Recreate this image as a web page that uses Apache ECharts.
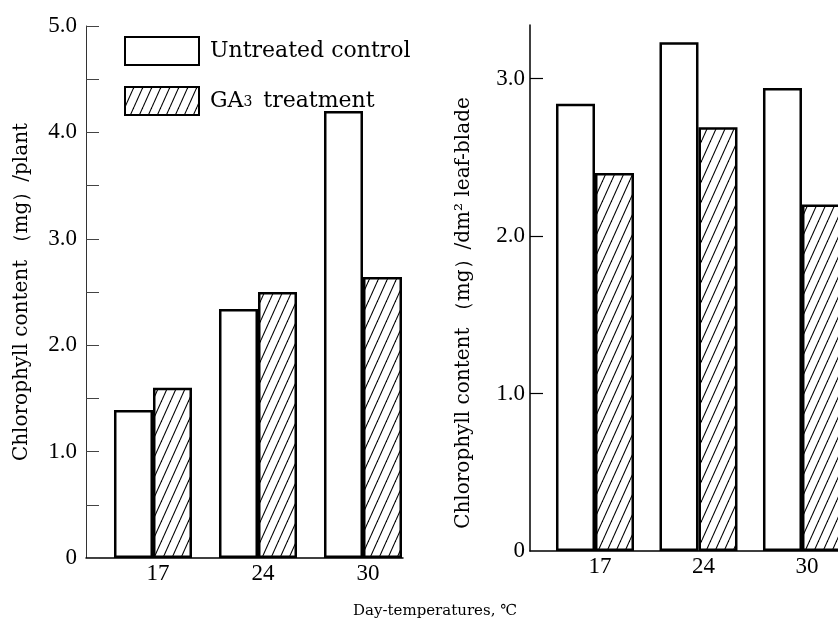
<!DOCTYPE html>
<html>
<head>
<meta charset="utf-8">
<script src="https://cdn.jsdelivr.net/npm/echarts@6/dist/echarts.min.js"></script>
<style>
  html, body { margin: 0; padding: 0; background: #fff; }
  #chart { width: 838px; height: 633px; }
</style>
</head>
<body>
<div id="chart"></div>
<script>
// day temperatures (x categories) and their slot on the value x axis
const dayTemps = ['17', '24', '30'];
const slots = [1, 2, 3];

// chlorophyll per plant (mg)
const plantControl = [1.39, 2.34, 4.20];
const plantGA3 = [1.60, 2.50, 2.64];

// chlorophyll per dm2 leaf-blade (mg)
const bladeControl = [2.84, 3.23, 2.94];
const bladeGA3 = [2.40, 2.69, 2.20];

// tick labels
const plantLabelTicks = [0, 1, 2, 3, 4, 5];
const bladeLabelTicks = [0, 1, 2, 3];
const bladeTickMarks = [1, 2, 3];

const serif = 'DejaVu Serif';
const numFont = 'Liberation Serif';

// hatch pattern "////"
const hatch = (() => {
  const w = 9, h = 20;
  const c = document.createElement('canvas');
  c.width = w; c.height = h;
  const ctx = c.getContext('2d');
  ctx.fillStyle = '#fff';
  ctx.fillRect(0, 0, w, h);
  ctx.strokeStyle = '#000';
  ctx.lineWidth = 1.1;
  for (let k = -1; k <= 1; k++) {
    ctx.beginPath();
    ctx.moveTo(k * w, h);
    ctx.lineTo(k * w + w, 0);
    ctx.stroke();
  }
  return c;
})();

const pairs = (vals) => vals.map((v, i) => [slots[i], v]);

const fmtNum = (v) => (v === 0 ? '0' : v.toFixed(1));

const chart = echarts.init(document.getElementById('chart'));

const barBase = {
  type: 'bar',
  barWidth: 39,
  barGap: '0%',
  animation: false
};

const whiteStyle = { color: '#fff', borderColor: '#000', borderWidth: 2.5 };
const hatchStyle = { color: { image: hatch, repeat: 'repeat' }, borderColor: '#000', borderWidth: 2.5 };

const xAxisCommon = {
  type: 'value',
  axisLine: { show: true, lineStyle: { color: '#000', width: 1.5 } },
  axisTick: { show: false },
  splitLine: { show: false },
  axisLabel: {
    customValues: slots,
    formatter: (v) => dayTemps[Math.round(v) - 1],
    fontFamily: numFont,
    fontSize: 23,
    color: '#000',
    margin: 4,
    padding: [0, 0, 0, 10]
  }
};

const option = {
  backgroundColor: '#fff',
  title: {
    text: 'Day-temperatures, ℃',
    left: 353,
    top: 604,
    padding: 0,
    textStyle: { fontFamily: serif, fontSize: 15, fontWeight: 'normal', color: '#000' }
  },
  legend: {
    orient: 'vertical',
    left: 124,
    top: 36,
    padding: 0,
    itemWidth: 74,
    itemHeight: 28,
    itemGap: 20,
    icon: 'rect',
    data: ['Untreated control', 'GA3 treatment'],
    formatter: (name) => (name === 'GA3 treatment' ? 'GA{s|3} treatment' : name),
    textStyle: {
      fontFamily: serif,
      fontSize: 22,
      color: '#000',
      padding: [0, 0, 0, 6],
      rich: {
        s: { fontFamily: serif, fontSize: 14, color: '#000', verticalAlign: 'bottom', padding: [0, 4, 3, 0] }
      }
    }
  },
  grid: [
    { left: 86, top: 26, width: 317, height: 532 },
    { left: 530, top: 25, width: 308, height: 526 }
  ],
  xAxis: [
    Object.assign({}, xAxisCommon, { gridIndex: 0, min: 0.362, max: 3.381 }),
    Object.assign({}, xAxisCommon, { gridIndex: 1, min: 0.372, max: 3.348 })
  ],
  yAxis: [
    {
      type: 'value',
      gridIndex: 0,
      min: 0,
      max: 5,
      interval: 0.5,
      name: 'Chlorophyll content （mg）/plant',
      nameLocation: 'middle',
      nameGap: 54,
      nameTextStyle: { fontFamily: serif, fontSize: 20, color: '#000' },
      axisLine: { show: true, lineStyle: { color: '#333', width: 1 } },
      axisTick: { show: true, inside: true, length: 13, lineStyle: { color: '#444', width: 1 } },
      splitLine: { show: false },
      axisLabel: {
        formatter: (v) => (Math.abs(v % 1) < 1e-6 ? fmtNum(v) : ''),
        fontFamily: numFont,
        fontSize: 23,
        color: '#000',
        margin: 9
      }
    },
    {
      type: 'value',
      gridIndex: 1,
      min: 0,
      max: 3.34,
      name: 'Chlorophyll content （mg）/dm² leaf-blade',
      nameLocation: 'middle',
      nameGap: 56,
      nameTextStyle: { fontFamily: serif, fontSize: 20, color: '#000', padding: [0, 50, 0, 0] },
      axisLine: { show: true, lineStyle: { color: '#000', width: 1.5 } },
      axisTick: { show: true, inside: true, length: 13, customValues: bladeTickMarks, lineStyle: { color: '#000', width: 1.2 } },
      splitLine: { show: false },
      axisLabel: {
        customValues: bladeLabelTicks,
        formatter: (v) => fmtNum(v),
        fontFamily: numFont,
        fontSize: 23,
        color: '#000',
        margin: 5
      }
    }
  ],
  series: [
    Object.assign({}, barBase, { name: 'Untreated control', xAxisIndex: 0, yAxisIndex: 0, data: pairs(plantControl), itemStyle: whiteStyle }),
    Object.assign({}, barBase, { name: 'GA3 treatment', xAxisIndex: 0, yAxisIndex: 0, data: pairs(plantGA3), itemStyle: hatchStyle }),
    Object.assign({}, barBase, { name: 'Untreated control', xAxisIndex: 1, yAxisIndex: 1, data: pairs(bladeControl), itemStyle: whiteStyle }),
    Object.assign({}, barBase, { name: 'GA3 treatment', xAxisIndex: 1, yAxisIndex: 1, data: pairs(bladeGA3), itemStyle: hatchStyle })
  ]
};

chart.setOption(option);
</script>
</body>
</html>
